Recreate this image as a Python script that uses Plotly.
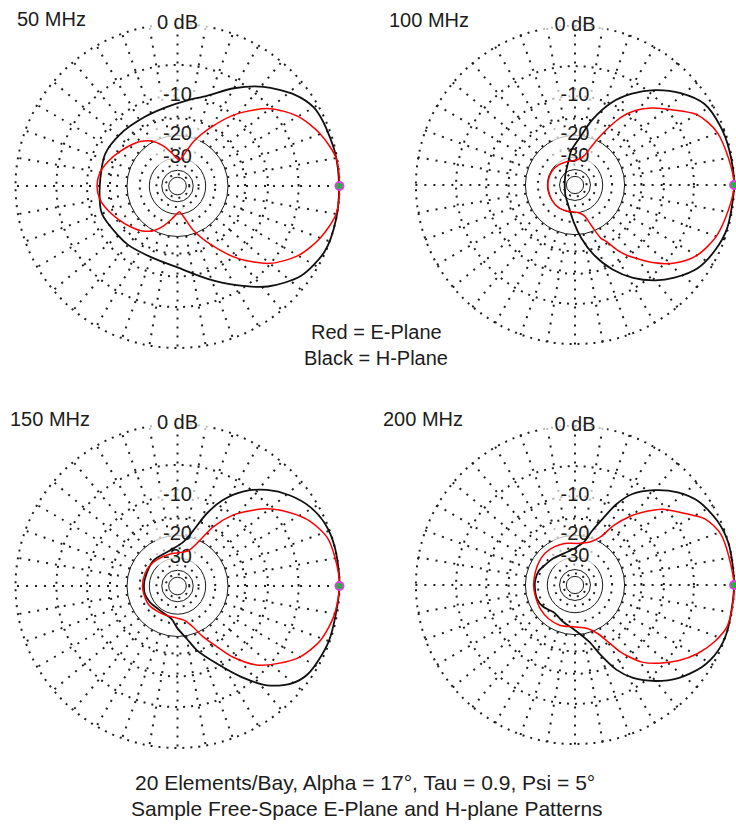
import plotly.graph_objects as go

FONT = "Liberation Sans, Arial, sans-serif"
TXT = "#1c1c1c"
GRID = "#1e1e1e"

# ---- pattern data (angle in degrees, level in dB relative to the peak) ----
ang_50_e = [-180, -170, -160, -150, -140, -130, -120, -110, -100, -92, -86, -80, -70, -60, -50, -40, -30, -20, -10,
            0, 10, 20, 30, 40, 50, 60, 70, 80, 86, 92, 100, 110, 120, 130, 140, 150, 160, 170, 180]
db_50_e = [-12.0, -12.4, -13.6, -15.0, -16.3, -17.6, -19.5, -22.8, -27.0, -30.0, -31.5, -29.0, -21.0, -14.8, -9.2,
           -5.1, -2.6, -1.1, -0.1, 0.0, -0.1, -1.1, -2.6, -5.1, -9.2, -14.8, -21.0, -29.0, -31.5, -30.0, -27.0,
           -22.8, -19.5, -17.6, -16.3, -15.0, -13.6, -12.4, -12.0]

ang_50_h = [-180, -160, -140, -130, -110, -90, -72, -60, -48, -36, -24, -12, 0, 12, 24, 30, 38, 49, 60, 72, 84,
            98, 116, 138, 156, 180]
db_50_h = [-12.6, -12.0, -12.7, -12.8, -13.0, -11.8, -8.7, -6.0, -3.1, -1.0, -0.1, 0.0, -0.05, -0.1, -0.3, -0.5,
           -1.5, -3.6, -6.2, -9.2, -10.9, -12.2, -12.9, -12.7, -12.3, -12.6]

ang_100_e = [-180, -170, -148, -126, -108, -84, -73, -68, -64, -61, -57, -54, -45, -38, -30, -19, 0, 20, 30, 38,
             45, 51, 56, 59, 62, 67, 72, 83, 110, 130, 150, 169, 180]
db_100_e = [-30.4, -30.4, -30.1, -29.8, -30.2, -30.0, -27.4, -22.2, -16.9, -15.5, -12.3, -10.5, -6.4, -3.9, -2.1,
            -0.9, 0.0, -0.8, -2.1, -4.5, -6.5, -8.7, -11.5, -14.3, -17.5, -23.0, -28.0, -31.3, -32.0, -31.1,
            -30.5, -30.4, -30.4]

ang_100_h = [-180, -165, -150, -135, -120, -108, -92, -83, -75, -66, -58, -50, -43, -34, -25, -16, 0, 13, 22, 32,
             41, 50, 58, 66, 75, 84, 96, 106, 120, 135, 150, 165, 180]
db_100_h = [-47.0, -46.5, -45.0, -42.0, -38.5, -34.3, -25.0, -18.6, -13.6, -9.3, -6.4, -4.2, -2.7, -1.2, -0.5,
            -0.1, 0.0, -0.1, -0.25, -0.7, -2.2, -4.3, -6.7, -9.7, -14.6, -20.6, -26.1, -32.3, -38.0, -42.0,
            -45.0, -46.5, -47.0]

ang_150_e = [-180, -167, -148, -130, -110, -92, -78, -69, -63, -57, -52, -45, -38, -30, -21, -11, 0, 10, 18, 26,
             33, 41, 47, 52, 59, 64, 73, 86, 103, 126, 144, 160, 180]
db_150_e = [-26.3, -26.5, -26.6, -27.6, -28.1, -27.9, -26.1, -22.3, -17.8, -13.8, -10.0, -6.4, -4.3, -2.3, -1.0,
            -0.3, 0.0, -0.2, -0.5, -1.6, -3.2, -5.5, -7.9, -10.1, -14.7, -20.0, -25.4, -27.0, -27.4, -27.2,
            -26.6, -26.4, -26.3]

ang_150_h = [-180, -166, -150, -140, -120, -100, -90, -80, -73, -63, -55, -48, -41, -34, -20, 0, 14, 23, 31, 39,
             47, 55, 62, 68, 75, 83, 102, 134, 168, 180]
db_150_h = [-27.0, -27.0, -27.8, -28.5, -28.8, -27.0, -23.0, -19.0, -15.0, -10.6, -6.5, -3.3, -1.4, -0.5, -0.1,
            0.0, 0.0, -0.2, -0.85, -2.0, -3.6, -5.8, -8.7, -12.5, -18.4, -22.4, -25.7, -26.3, -27.1, -27.0]

ang_200_e = [-180, -165, -145, -128, -110, -90, -74, -65, -60, -56, -54, -49, -43, -36, -29, -22, -15, 0, 19, 27,
             33, 41, 48, 51, 57, 62, 70, 86, 104, 118, 133, 149, 163, 180]
db_200_e = [-23.1, -23.2, -22.8, -22.5, -22.4, -22.9, -21.6, -18.7, -15.3, -11.7, -10.4, -7.6, -5.6, -3.65, -2.1,
            -0.93, -0.14, 0.0, -0.5, -1.5, -3.3, -5.5, -8.5, -10.0, -13.8, -18.4, -21.3, -23.0, -22.5, -22.3,
            -22.2, -22.6, -23.0, -23.1]

ang_200_h = [-180, -160, -145, -128, -108, -90, -76, -70, -64, -58, -50, -42, -33, -25, -17, 0, 15, 24, 34, 42,
             50, 58, 63, 67, 73, 78, 96, 129, 146, 159, 172, 180]
db_200_h = [-23.6, -23.5, -24.4, -26.2, -24.3, -21.6, -17.2, -13.1, -9.0, -6.4, -4.1, -2.3, -0.9, -0.2, 0.0, 0.0,
            0.0, -0.3, -1.1, -2.4, -4.3, -6.8, -9.7, -13.4, -18.1, -22.0, -25.9, -26.3, -25.5, -24.2, -23.7,
            -23.6]

panel_titles = ["50 MHz", "100 MHz", "150 MHz", "200 MHz"]
e_angles = [ang_50_e, ang_100_e, ang_150_e, ang_200_e]
e_levels = [db_50_e, db_100_e, db_150_e, db_200_e]
h_angles = [ang_50_h, ang_100_h, ang_150_h, ang_200_h]
h_levels = [db_50_h, db_100_h, db_150_h, db_200_h]

# grid rings and their labels (dB)
ring_db_dotted = [0, -5, -10, -15, -25, -35, -45]
ring_db_solid = [-20, -30, -40, -50]
label_db = [0, -10, -20, -30]
label_text = ["0 dB", "-10", "-20", "-30"]
peak_angle = [0]
peak_db = [0]


def arrl(db):
    """ARRL log scale: radius shrinks by a factor 0.89 for every 2 dB."""
    return 0.89 ** (-db / 2.0)


W, H = 736, 830
RMAX = 1.012          # a little headroom so the 0 dB ring is kept as a grid line
HOLE = arrl(-20) / RMAX

# panel placement (pixels): centre x, centre y, radius of the 0 dB ring
panel_px = [(177.5, 186, 162), (575, 185, 159.1), (177.5, 586, 162), (575, 585, 159.1)]

fig = go.Figure()
layout = dict(width=W, height=H, autosize=False, margin=dict(l=0, r=0, t=0, b=0),
              paper_bgcolor="white", plot_bgcolor="white", showlegend=False, annotations=[])

hidden_ang = dict(showticklabels=False, ticks="", showline=False, showgrid=False)

for i in range(4):
    cx, cy, rad0 = panel_px[i]
    rad = rad0 * RMAX
    x0 = max(0.0, (cx - rad) / W)
    x1 = min(1.0, (cx + rad) / W)
    dom = dict(x=[x0, x1], y=[(H - cy - rad) / H, (H - cy + rad) / H])
    ids = [3 * i + 1, 3 * i + 2, 3 * i + 3]
    names = ["polar" if k == 1 else "polar%d" % k for k in ids]

    # bottom layer: dotted 10-degree spokes outside the -20 dB ring
    layout[names[0]] = dict(
        domain=dom, hole=HOLE, bgcolor="white",
        radialaxis=dict(range=[HOLE * RMAX, RMAX], showgrid=False,
                        showticklabels=False, ticks="", showline=False),
        angularaxis=dict(tickmode="linear", tick0=0, dtick=10, showticklabels=False, ticks="",
                         showline=False, gridcolor=GRID, gridwidth=1.5, griddash="2px,7px"),
    )
    # middle layer: dotted rings
    layout[names[1]] = dict(
        domain=dom, bgcolor="rgba(0,0,0,0)",
        radialaxis=dict(range=[0, RMAX], tickvals=[arrl(d) for d in ring_db_dotted],
                        showticklabels=False, ticks="", showline=False, showgrid=True,
                        gridcolor=GRID, gridwidth=1.5, griddash="2px,6px"),
        angularaxis=hidden_ang,
    )
    # top layer: solid inner rings and the patterns
    layout[names[2]] = dict(
        domain=dom, bgcolor="rgba(0,0,0,0)",
        radialaxis=dict(range=[0, RMAX], tickvals=[arrl(d) for d in ring_db_solid],
                        showticklabels=False, ticks="", showline=False,
                        gridcolor="#1a1a1a", gridwidth=1.4),
        angularaxis=hidden_ang,
    )

    for nm in names[:2]:
        fig.add_trace(go.Scatterpolar(r=[0.5], theta=[0], mode="markers", subplot=nm,
                                      marker=dict(size=1, color="rgba(0,0,0,0)"), hoverinfo="skip"))

    top = names[2]
    fig.add_trace(go.Scatterpolar(
        r=[arrl(d) for d in label_db], theta=[90] * len(label_db), subplot=top,
        mode="markers+text", text=label_text, textposition="middle center", cliponaxis=False,
        textfont=dict(family=FONT, size=20, color=TXT),
        marker=dict(symbol="line-ew", size=[46, 32, 32, 32], color="white",
                    line=dict(color="white", width=15)),
        hoverinfo="skip"))
    fig.add_trace(go.Scatterpolar(
        r=[arrl(d) for d in h_levels[i]], theta=h_angles[i], subplot=top, mode="lines",
        line=dict(color="#101010", width=1.8, shape="spline", smoothing=0.8), name="H-Plane"))
    fig.add_trace(go.Scatterpolar(
        r=[arrl(d) for d in e_levels[i]], theta=e_angles[i], subplot=top, mode="lines",
        line=dict(color="#ff0000", width=1.5, shape="spline", smoothing=0.8), name="E-Plane"))
    fig.add_trace(go.Scatterpolar(
        r=[arrl(d) for d in peak_db], theta=peak_angle, subplot=top, mode="markers", cliponaxis=False,
        marker=dict(symbol="circle", size=8, color="#1fb83a", line=dict(color="#e040e8", width=2)),
        hoverinfo="skip"))

title_pos = [(52, 19), (429, 20), (50, 419), (423, 419)]
for t, (tx, ty) in zip(panel_titles, title_pos):
    layout["annotations"].append(dict(text=t, x=tx / W, y=1 - ty / H, xref="paper", yref="paper",
                                      xanchor="center", yanchor="middle", showarrow=False,
                                      font=dict(family=FONT, size=20, color=TXT)))

legend_lines = [("Red = E-Plane", 376, 332), ("Black = H-Plane", 376, 358)]
for t, tx, ty in legend_lines:
    layout["annotations"].append(dict(text=t, x=tx / W, y=1 - ty / H, xref="paper", yref="paper",
                                      xanchor="center", yanchor="middle", showarrow=False,
                                      font=dict(family=FONT, size=20, color=TXT)))

footer_lines = [("20 Elements/Bay, Alpha = 17°, Tau = 0.9, Psi = 5°", 365, 782),
                ("Sample Free-Space E-Plane and H-plane Patterns", 367, 808)]
for t, tx, ty in footer_lines:
    layout["annotations"].append(dict(text=t, x=tx / W, y=1 - ty / H, xref="paper", yref="paper",
                                      xanchor="center", yanchor="middle", showarrow=False,
                                      font=dict(family=FONT, size=21, color=TXT)))

fig.update_layout(**layout)
fig.write_html("out.html")
